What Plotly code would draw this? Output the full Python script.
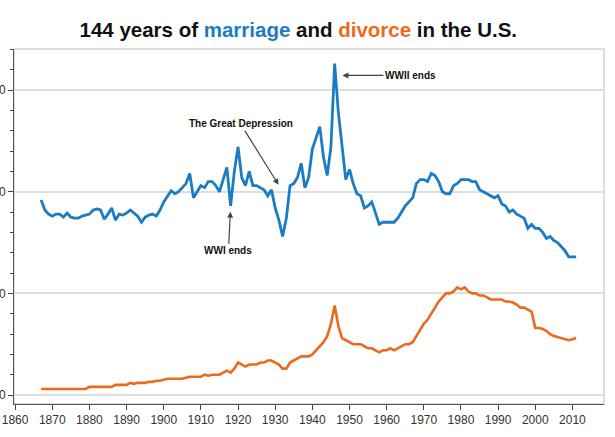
import plotly.graph_objects as go

# Rates per 1,000 population, 1867-2011
YEARS = list(range(1867, 2012))

MARRIAGE = [
    9.6, 9.1, 8.9,                                                  # 1867-1869
    8.8, 8.9, 8.9, 8.75, 8.95, 8.75, 8.7, 8.7, 8.8, 8.85,            # 1870s
    8.9, 9.1, 9.15, 9.1, 8.65, 8.9, 9.2, 8.6, 8.9, 8.85,             # 1880s
    8.95, 9.1, 8.95, 8.8, 8.5, 8.75, 8.85, 8.9, 8.8, 9.1,            # 1890s
    9.5, 9.8, 10.05, 9.9, 10.0, 10.2, 10.4, 10.9, 9.7, 10.0,         # 1900s
    10.3, 10.2, 10.5, 10.5, 10.3, 10.0, 10.6, 11.2, 9.3, 11.0,       # 1910s
    12.2, 10.7, 10.3, 11.0, 10.3, 10.3, 10.2, 10.1, 9.8, 10.1,       # 1920s
    9.2, 8.6, 7.8, 8.7, 10.3, 10.4, 10.7, 11.4, 10.2, 10.7,          # 1930s
    12.1, 12.7, 13.2, 11.7, 10.8, 12.2, 16.3, 13.9, 12.4, 10.6,      # 1940s
    11.1, 10.4, 9.9, 9.8, 9.2, 9.3, 9.5, 8.9, 8.4, 8.5,              # 1950s
    8.5, 8.5, 8.5, 8.7, 9.0, 9.3, 9.5, 9.7, 10.4, 10.6,              # 1960s
    10.6, 10.5, 10.9, 10.8, 10.5, 10.0, 9.9, 9.9, 10.3, 10.4,        # 1970s
    10.6, 10.6, 10.6, 10.5, 10.5, 10.1, 10.0, 9.9, 9.8, 9.7,         # 1980s
    9.8, 9.4, 9.3, 9.0, 9.1, 8.9, 8.8, 8.7, 8.2, 8.4,                # 1990s
    8.2, 8.2, 8.0, 7.7, 7.8, 7.6, 7.5, 7.3, 7.1, 6.8,                # 2000s
    6.8, 6.8,                                                        # 2010-2011
]

DIVORCE = [
    0.3, 0.3, 0.3,                                                   # 1867-1869
    0.3, 0.3, 0.3, 0.3, 0.3, 0.3, 0.3, 0.3, 0.3, 0.3,                # 1870s
    0.4, 0.4, 0.4, 0.4, 0.4, 0.4, 0.4, 0.5, 0.5, 0.5,                # 1880s
    0.5, 0.6, 0.55, 0.6, 0.6, 0.6, 0.65, 0.65, 0.7, 0.7,             # 1890s
    0.75, 0.8, 0.8, 0.8, 0.8, 0.8, 0.85, 0.9, 0.9, 0.9,              # 1900s
    0.9, 1.0, 0.95, 1.0, 1.0, 1.0, 1.1, 1.2, 1.1, 1.3,               # 1910s
    1.6, 1.5, 1.4, 1.5, 1.5, 1.5, 1.6, 1.6, 1.7, 1.7,                # 1920s
    1.6, 1.5, 1.3, 1.3, 1.6, 1.7, 1.8, 1.9, 1.9, 1.9,                # 1930s
    2.0, 2.2, 2.4, 2.6, 2.9, 3.5, 4.4, 3.4, 2.8, 2.7,                # 1940s
    2.6, 2.5, 2.5, 2.5, 2.4, 2.3, 2.3, 2.2, 2.1, 2.2,                # 1950s
    2.2, 2.3, 2.2, 2.3, 2.4, 2.5, 2.5, 2.6, 2.9, 3.2,                # 1960s
    3.5, 3.7, 4.0, 4.3, 4.6, 4.8, 5.0, 5.0, 5.1, 5.3,                # 1970s
    5.2, 5.3, 5.1, 5.0, 5.0, 4.9, 4.9, 4.8, 4.7, 4.7,                # 1980s
    4.7, 4.7, 4.6, 4.6, 4.55, 4.45, 4.3, 4.3, 4.2, 4.1,              # 1990s
    3.3, 3.3, 3.25, 3.15, 3.0, 2.9, 2.85, 2.8, 2.75, 2.7,            # 2000s
    2.75, 2.8,                                                       # 2010-2011
]

X_TICKS = list(range(1860, 2011, 10))
Y_TICKS = [0, 5, 10, 15]

BLUE = "#1b7cc4"
ORANGE = "#ec6a1c"
FONT = "Liberation Sans, Arial, sans-serif"

fig = go.Figure()

fig.add_trace(
    go.Scatter(
        x=YEARS, y=MARRIAGE, mode="lines", name="Marriage",
        line=dict(color=BLUE, width=2.8),
    )
)
fig.add_trace(
    go.Scatter(
        x=YEARS, y=DIVORCE, mode="lines", name="Divorce",
        line=dict(color=ORANGE, width=2.6),
    )
)

# Annotations pointing at historical events
ann_font = dict(family=FONT, size=10, color="#111")
arrow = dict(showarrow=True, arrowhead=2, arrowsize=1, arrowwidth=1.2,
             arrowcolor="#444", font=ann_font)

fig.add_annotation(x=1948.1, y=15.72, text="<b>WWII ends</b>", ax=68, ay=0, **arrow)
fig.add_annotation(x=1917.95, y=9.02, text="<b>WWI ends</b>", ax=-2, ay=39, **arrow)
fig.add_annotation(x=1930.9, y=10.34, text="<b>The Great Depression</b>",
                   ax=-38, ay=-61, **arrow)

# light frame around the plot area
fig.add_shape(type="rect", xref="paper", yref="paper", x0=0, x1=1, y0=0, y1=1,
              line=dict(color="#d4d4d4", width=1.5), layer="below")

fig.update_layout(
    template="none",
    width=615,
    height=437,
    margin=dict(l=14, r=11, t=49, b=33),
    paper_bgcolor="white",
    plot_bgcolor="white",
    showlegend=False,
    title=dict(
        text=(
            f"<b>144 years of <span style='color:{BLUE}'>marriage</span> and "
            f"<span style='color:{ORANGE}'>divorce</span> in the U.S.</b>"
        ),
        font=dict(family=FONT, size=20.5, color="#111"),
        xref="container", x=0.485, xanchor="center",
        yref="container", y=1 - 30 / 437, yanchor="middle",
    ),
)

fig.update_xaxes(
    range=[1859.7, 2018.5],
    tickvals=X_TICKS,
    ticks="outside", ticklen=5, tickcolor="#444", tickwidth=1,
    showline=True, linecolor="#555", linewidth=1,
    showgrid=False, zeroline=False, automargin=False,
    tickfont=dict(family=FONT, size=12, color="#333"),
)
fig.update_yaxes(
    range=[-0.44, 17.02],
    tickvals=Y_TICKS, tickformat=".1f",
    ticks="outside", ticklen=5, tickcolor="#444", tickwidth=1,
    minor=dict(dtick=1, tick0=0, ticks="outside", ticklen=3, tickcolor="#444", showgrid=False),
    showline=True, linecolor="#555", linewidth=1,
    showgrid=True, gridcolor="#dedede", gridwidth=1.5,
    zeroline=False, automargin=False,
    tickfont=dict(family=FONT, size=12, color="#333"),
)

# page body has a default 8px margin; drop it so the figure sits at the corner
fig.write_html(
    "out.html",
    config={"displayModeBar": False},
    post_script="document.body.style.margin = '0';",
)
